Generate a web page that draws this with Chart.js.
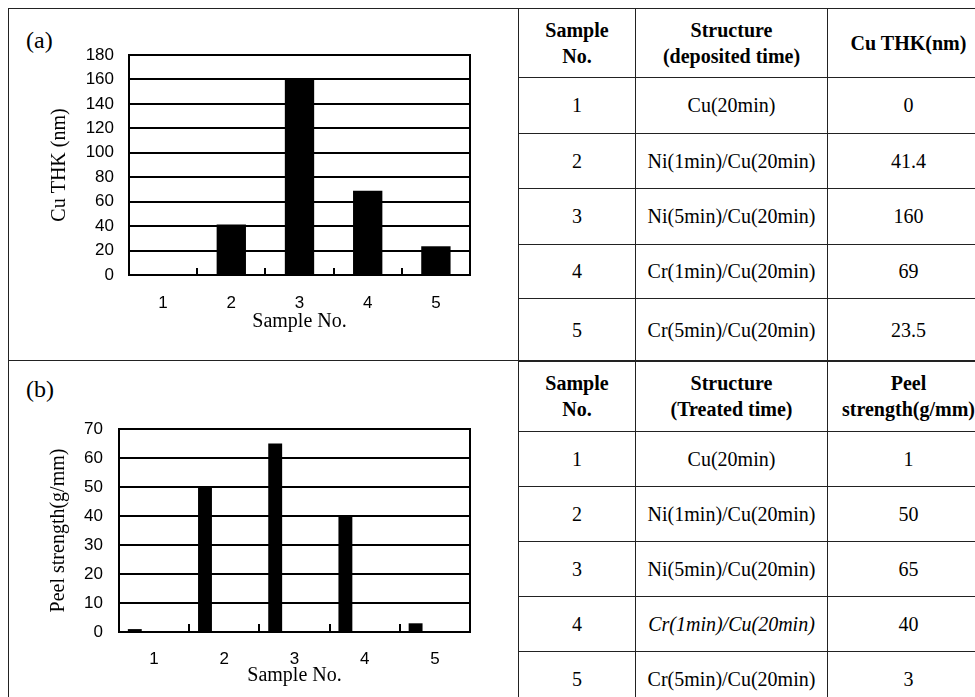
<!DOCTYPE html>
<html><head><meta charset="utf-8">
<script src="https://cdn.jsdelivr.net/npm/chart.js@4"></script>
<style>
html,body{margin:0;padding:0;background:#fff;}
body{width:975px;height:697px;overflow:hidden;position:relative;font-family:"Liberation Serif","Times New Roman",serif;color:#000;}
.frame{position:absolute;left:8px;top:8px;width:1000px;height:1000px;border-left:1px solid #222;border-top:1px solid #222;}
.hline{position:absolute;left:8px;top:360px;width:520px;height:0;border-top:1px solid #222;}
.vline{position:absolute;left:518px;top:8px;width:0;height:700px;border-left:1px solid #222;}
canvas{position:absolute;left:0;}
.lab{position:absolute;left:26px;font-size:24px;line-height:24px;}
table{position:absolute;left:518px;border-collapse:collapse;table-layout:fixed;font-size:20px;}
td{border:1px solid #222;text-align:center;vertical-align:middle;padding:0;white-space:nowrap;}
td.h{font-weight:bold;line-height:26px;}
</style>
</head><body>
<div class="frame"></div>
<div class="hline"></div>
<div class="vline"></div>
<div class="lab" style="top:28px;">(a)</div>
<div class="lab" style="top:377px;">(b)</div>
<canvas id="ca" width="518" height="361" style="top:0;width:518px;height:361px;"></canvas>
<canvas id="cb" width="518" height="336" style="top:361px;width:518px;height:336px;"></canvas>
<table id="ta" style="top:8px;"></table>
<table id="tb" style="top:360px;"></table>
<script>
// ---- data ----
const samples = ['1', '2', '3', '4', '5'];
const structures = ['Cu(20min)', 'Ni(1min)/Cu(20min)', 'Ni(5min)/Cu(20min)', 'Cr(1min)/Cu(20min)', 'Cr(5min)/Cu(20min)'];
const cuThk = [0, 41.4, 160, 69, 23.5];
const peel = [1, 50, 65, 40, 3];
const cuThkAxis = { min: 0, max: 180, step: 20 };
const peelAxis = { min: 0, max: 70, step: 10 };
const headersA = ['Sample<br>No.', 'Structure<br>(deposited time)', 'Cu THK(nm)'];
const headersB = ['Sample<br>No.', 'Structure<br>(Treated time)', 'Peel<br>strength(g/mm)'];
const italicRowsB = [3];

// ---- tables ----
const colW = [117, 192, 162];
function buildTable(id, headers, values, rowH, italicRows) {
  const t = document.getElementById(id);
  let html = '<colgroup>' + colW.map(w => `<col style="width:${w}px">`).join('') + '</colgroup>';
  html += `<tr style="height:${rowH[0]}px">` + headers.map(h => `<td class="h">${h}</td>`).join('') + '</tr>';
  samples.forEach((s, i) => {
    const st = italicRows.includes(i) ? ' style="font-style:italic"' : '';
    html += `<tr style="height:${rowH[i + 1]}px"><td>${s}</td><td${st}>${structures[i]}</td><td>${String(values[i])}</td></tr>`;
  });
  t.innerHTML = html;
  t.style.width = colW.reduce((a, b) => a + b, 0) + 'px';
}
buildTable('ta', headersA, cuThk, [69, 56, 55, 56, 54, 63], []);
buildTable('tb', headersB, peel, [71, 55, 55, 55, 55, 55], italicRowsB);

// ---- charts ----
const frameBox = {
  id: 'frameBox',
  afterDatasetsDraw(chart) {
    const { ctx, chartArea: a } = chart;
    ctx.save();
    ctx.strokeStyle = '#000';
    ctx.lineWidth = 2;
    ctx.strokeRect(a.left, a.top, a.right - a.left, a.bottom - a.top);
    ctx.restore();
  }
};
const tickFont = { family: 'Liberation Sans', size: 17 };
const titleFont = { family: 'Liberation Serif', size: 20 };

function makeChart(id, values, axis, cfg) {
  const datasets = [{ data: values, backgroundColor: '#000', borderWidth: 0, barPercentage: cfg.barPct, categoryPercentage: cfg.catPct }];
  if (cfg.spacer) datasets.push({ data: values.map(() => null), backgroundColor: '#000', barPercentage: cfg.barPct, categoryPercentage: cfg.catPct });
  return new Chart(document.getElementById(id), {
    type: 'bar',
    data: { labels: samples, datasets },
    options: {
      responsive: false, animation: false, devicePixelRatio: 1,
      layout: { padding: { top: cfg.padTop, right: 48, bottom: 0, left: 0 } },
      plugins: { legend: { display: false }, tooltip: { enabled: false } },
      scales: {
        x: {
          grid: { display: true, drawOnChartArea: false, drawTicks: true, tickLength: -cfg.tickLen, color: '#000', lineWidth: 2, offset: true },
          border: { display: true, color: '#000', width: 2 },
          ticks: { padding: cfg.xPad, color: '#000', font: tickFont, maxRotation: 0 },
          title: { display: true, text: 'Sample No.', color: '#000', font: titleFont, padding: { top: 0, bottom: cfg.xTitlePad } },
          afterFit(s) { s.height = cfg.xH; }
        },
        y: {
          min: axis.min, max: axis.max,
          ticks: { stepSize: axis.step, padding: cfg.yPad, color: '#000', font: tickFont },
          grid: { color: '#000', lineWidth: 2, drawTicks: false },
          border: { display: true, color: '#000', width: 2 },
          title: { display: true, text: cfg.yTitle, color: '#000', font: titleFont, padding: { top: cfg.yTitlePad, bottom: 0 } },
          afterFit(s) { s.width = cfg.yW; }
        }
      }
    },
    plugins: [frameBox]
  });
}

makeChart('ca', cuThk, cuThkAxis, {
  yTitle: 'Cu THK (nm)', padTop: 55, xH: 86, yW: 129, tickLen: 7, xPad: 25, xTitlePad: 27,
  yPad: 15, yTitlePad: 48, barPct: 0.43, catPct: 1, spacer: false
});
makeChart('cb', peel, peelAxis, {
  yTitle: 'Peel strength(g/mm)', padTop: 68, xH: 65, yW: 119, tickLen: 8, xPad: 25, xTitlePad: 9,
  yPad: 16, yTitlePad: 47, barPct: 0.36, catPct: 1.1, spacer: true
});
</script>
</body></html>
